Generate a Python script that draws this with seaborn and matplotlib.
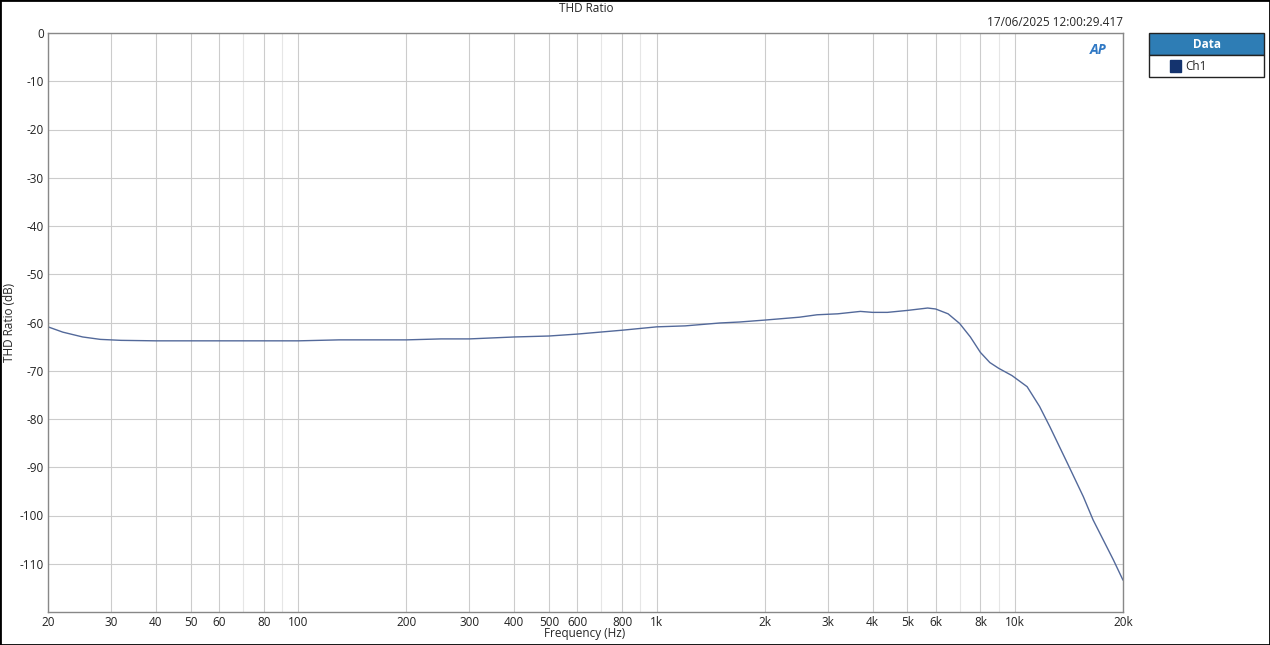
import matplotlib
matplotlib.use('Agg')
import matplotlib.pyplot as plt
import matplotlib.ticker as mticker
from matplotlib.patches import Rectangle
import pandas as pd
import seaborn as sns

# measured THD ratio, Ch1
freq_hz = [20, 22, 25, 28, 32, 40, 60, 100, 130, 200, 250, 300, 400, 500, 600, 800,
           1000, 1200, 1500, 1700, 2000, 2500, 2800, 3200, 3700, 4000, 4400, 5000,
           5700, 6000, 6500, 7000, 7500, 8000, 8500, 9000, 9800, 10800, 11700,
           12500, 14000, 15500, 16500, 18800, 20000]
thd_db = [-60.9, -62.0, -63.0, -63.5, -63.7, -63.8, -63.8, -63.8, -63.6, -63.6,
          -63.4, -63.4, -63.0, -62.8, -62.4, -61.6, -60.9, -60.7, -60.1, -59.9,
          -59.5, -58.9, -58.4, -58.2, -57.7, -57.9, -57.9, -57.5, -57.0, -57.2,
          -58.2, -60.2, -63.0, -66.2, -68.3, -69.5, -71.0, -73.3, -77.4, -81.6,
          -89.2, -96.1, -100.9, -109.2, -113.4]

x_ticks = [20, 30, 40, 50, 60, 80, 100, 200, 300, 400, 500, 600, 800,
           1000, 2000, 3000, 4000, 5000, 6000, 8000, 10000, 20000]
x_tick_labels = ['20', '30', '40', '50', '60', '80', '100', '200', '300', '400', '500',
                 '600', '800', '1k', '2k', '3k', '4k', '5k', '6k', '8k', '10k', '20k']
x_minor = [70, 90, 700, 900, 7000, 9000]
y_ticks = list(range(0, -120, -10))

sns.set_style('white')
plt.rcParams['font.family'] = ['Open Sans', 'DejaVu Sans']
plt.rcParams['font.size'] = 8
plt.rcParams['axes.unicode_minus'] = False

df = pd.DataFrame({'Frequency': freq_hz, 'THD': thd_db})

fig = plt.figure(figsize=(12.7, 6.45), dpi=100)
ax = fig.add_axes([48 / 1270, 1 - 612 / 645, 1075 / 1270, 579 / 645])

sns.lineplot(data=df, x='Frequency', y='THD', ax=ax, color='#53699a', linewidth=1.0)

ax.set_xscale('log')
ax.set_xlim(20, 20000)
ax.set_ylim(-120, 0)
ax.xaxis.set_major_locator(mticker.FixedLocator(x_ticks))
ax.xaxis.set_major_formatter(mticker.FixedFormatter(x_tick_labels))
ax.xaxis.set_minor_locator(mticker.FixedLocator(x_minor))
ax.xaxis.set_minor_formatter(mticker.NullFormatter())
ax.set_yticks(y_ticks)
ax.grid(True, which='major', color='#cccccc', linewidth=0.8)
ax.grid(True, which='minor', axis='x', color='#e6e6e6', linewidth=0.8)
ax.tick_params(axis='both', which='both', length=0, pad=3, labelsize=8.5, colors='#222222')
for s in ax.spines.values():
    s.set_color('#888888')
    s.set_linewidth(1)

ax.set_xlabel('Frequency (Hz)', fontsize=8.5, va='center', ha='center')
ax.set_ylabel('THD Ratio (dB)', fontsize=8.5, va='center', ha='center')
ax.xaxis.set_label_coords((585 - 48) / 1075, -(634 - 612) / 579)
ax.yaxis.set_label_coords(-(48 - 10) / 1075, 0.5)

fig.text(586 / 1270, 1 - 9 / 645, 'THD Ratio', ha='center', va='center', fontsize=8.5)
fig.text(1123 / 1270, 1 - 22 / 645, '17/06/2025 12:00:29.417', ha='right', va='center', fontsize=8.5)
ax.text(0.985, 0.97, 'AP', transform=ax.transAxes, ha='right', va='center',
        fontsize=10, fontweight='bold', style='italic', color='#2f78c4')

# legend box
lx, lw = 1149 / 1270, 115 / 1270
fig.patches.append(Rectangle((lx, 1 - 55 / 645), lw, 22 / 645, transform=fig.transFigure,
                             facecolor='#2e7db5', edgecolor='#222222', linewidth=1))
fig.patches.append(Rectangle((lx, 1 - 77 / 645), lw, 22 / 645, transform=fig.transFigure,
                             facecolor='white', edgecolor='#222222', linewidth=1))
fig.text(lx + lw / 2, 1 - 44 / 645, 'Data', ha='center', va='center', fontsize=8.5,
         fontweight='bold', color='white')
fig.patches.append(Rectangle((1170 / 1270, 1 - 72 / 645), 11 / 1270, 12 / 645,
                             transform=fig.transFigure, facecolor='#14336e', edgecolor='#14336e'))
fig.text(1185 / 1270, 1 - 66 / 645, 'Ch1', ha='left', va='center', fontsize=8.5)

# outer border
fig.patches.append(Rectangle((0, 0), 1, 1, transform=fig.transFigure, fill=False,
                             edgecolor='black', linewidth=2))

fig.savefig('out.png', dpi=100)
